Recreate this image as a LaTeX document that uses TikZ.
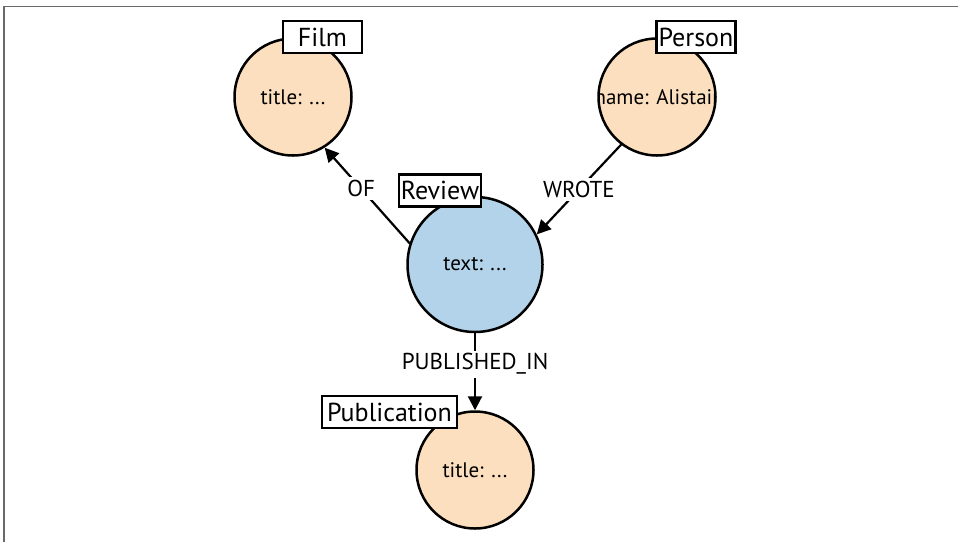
\documentclass[tikz,border=0pt]{standalone}
\usepackage{fontspec}
\setmainfont{PT Sans}
\usetikzlibrary{arrows.meta}

\begin{document}
\begin{tikzpicture}
[x=0.5pt,y=-0.5pt,line cap=round,
% Styles
entity/.style={circle,draw,line width=1.25pt,minimum size=58.5pt,inner sep=0pt,font=\fontsize{10.5}{12}\selectfont},
tag/.style={draw,fill=white,line width=1.25pt,minimum height=16pt,inner xsep=1pt,inner ysep=0pt,font=\fontsize{13}{15}\selectfont},
relation/.style={line width=1.1pt,-{Triangle[length=7pt,width=7pt]}},
rel label/.style={fill=white,inner sep=1.5pt,font=\fontsize{11.5}{13}\selectfont}]
% Colors
\definecolor{othercolor}{RGB}{252,223,190}
\definecolor{reviewcolor}{RGB}{178,211,233}
\definecolor{framecolor}{RGB}{105,105,105}
% The frame
\useasboundingbox (0,0) rectangle (958,542);
\draw[framecolor,line width=0.75pt,line cap=butt] (4,542) -- (4,6.5) -- (958,6.5);
% The nodes
\node[entity,fill=othercolor] (film) at (293,97) {title: ...};
\node[entity,fill=othercolor,
  path picture={\node at (path picture bounding box.center) {name: Alistair};}]
  (person) at (657,97) {};
\node[entity,fill=reviewcolor,minimum size=67.5pt] (review) at (475,264.5) {text: ...};
\node[entity,fill=othercolor] (publication) at (475,470) {title: ...};
% The relationships
\draw[relation] (review.162) -- node[rel label,pos=0.57] {OF} (film.-58);
\draw[relation] (person.-127) -- node[rel label] {WROTE} (review.26);
\draw[relation] (review.south) -- node[rel label,pos=0.4] {PUBLISHED\_IN} (publication.north);
% The labels
\node[tag,minimum width=39.5pt] (film tag) at (322.5,37) {Film};
\node[tag] (person tag) at (696,37) {Person};
\node[tag] (review tag) at (440,190.5) {Review};
\node[tag,inner xsep=2.5pt] (publication tag) at (389.5,412) {Publication};
\end{tikzpicture}
\end{document}
